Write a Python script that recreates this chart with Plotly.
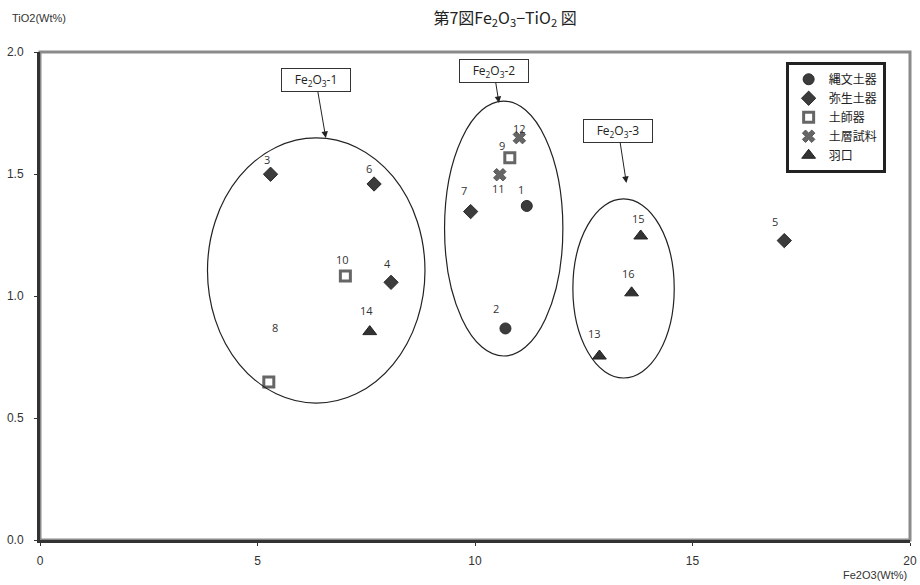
import plotly.graph_objects as go

# ---- data ----
groups = ["縄文土器", "弥生土器", "土師器", "土層試料", "羽口"]
sample_ids = {
    "縄文土器": ["1", "2"],
    "弥生土器": ["3", "4", "5", "6", "7"],
    "土師器": ["8", "9", "10"],
    "土層試料": ["11", "12"],
    "羽口": ["13", "14", "15", "16"],
}
fe2o3 = {
    "縄文土器": [11.19, 10.70],
    "弥生土器": [5.30, 8.07, 17.11, 7.68, 9.90],
    "土師器": [5.26, 10.80, 7.02],
    "土層試料": [10.57, 11.02],
    "羽口": [12.86, 7.58, 13.81, 13.60],
}
tio2 = {
    "縄文土器": [1.369, 0.867],
    "弥生土器": [1.499, 1.056, 1.227, 1.459, 1.346],
    "土師器": [0.648, 1.567, 1.082],
    "土層試料": [1.497, 1.649],
    "羽口": [0.754, 0.854, 1.246, 1.013],
}
x_ticks = [0, 5, 10, 15, 20]
y_ticks = [0.0, 0.5, 1.0, 1.5, 2.0]

# ---- styles ----
marker_styles = {
    "縄文土器": dict(symbol="circle", size=11, color="#3c3c3c", line=dict(color="#2a2a2a", width=1)),
    "弥生土器": dict(symbol="diamond", size=11, color="#3c3c3c", line=dict(color="#2a2a2a", width=1)),
    "土師器": dict(symbol="square", size=10, color="white", line=dict(color="#666666", width=3)),
    "土層試料": dict(symbol="x", size=11, color="#666666", line=dict(color="#555555", width=1)),
    "羽口": dict(symbol="triangle-up", size=12, color="#333333", line=dict(color="#222222", width=1)),
}
# pixel offsets of the number labels relative to their point
label_offsets = {
    "1": (-6, 16), "2": (-9, 20), "3": (-4, 15), "4": (-4, 19), "5": (-9, 19),
    "6": (-5, 16), "7": (-7, 21), "8": (6, 54), "9": (-8, 12), "10": (-3, 16),
    "11": (-1, -14), "12": (0, 9), "13": (-5, 23), "14": (-3, 21), "15": (-2, 17),
    "16": (-3, 19),
}

fig = go.Figure()
annotations = []
for g in groups:
    fig.add_trace(go.Scatter(
        x=fe2o3[g], y=tio2[g], mode="markers", name=g,
        marker=marker_styles[g],
    ))
    for sid, xv, yv in zip(sample_ids[g], fe2o3[g], tio2[g]):
        dx, dy = label_offsets[sid]
        annotations.append(dict(
            x=xv, y=yv, xref="x", yref="y", text=sid, showarrow=False,
            xshift=dx, yshift=dy, font=dict(family="Open Sans", size=11, color="#333333"),
        ))

# group boxes with arrows
group_boxes = [
    ("Fe<sub>2</sub>O<sub>3</sub>-1", 6.57, 1.648, -10, -58),
    ("Fe<sub>2</sub>O<sub>3</sub>-2", 10.55, 1.791, -5, -32),
    ("Fe<sub>2</sub>O<sub>3</sub>-3", 13.48, 1.463, -8, -52),
]
for txt, hx, hy, ax, ay in group_boxes:
    annotations.append(dict(
        x=hx, y=hy, xref="x", yref="y", text=txt, showarrow=True,
        ax=ax, ay=ay, axref="pixel", ayref="pixel",
        arrowhead=2, arrowsize=1.3, arrowwidth=1, arrowcolor="#222222",
        bordercolor="#333333", borderwidth=1, borderpad=3, bgcolor="white",
        width=62, height=16, font=dict(family="Open Sans", size=12, color="#222222"),
    ))

axis_label_font = dict(family="Liberation Sans Narrow, Liberation Sans", size=11, color="#333333")
annotations.append(dict(
    x=-0.034, y=1.07, xref="paper", yref="paper", xanchor="left", yanchor="middle",
    text="TiO2(Wt%)", showarrow=False, font=axis_label_font,
))
annotations.append(dict(
    x=0.999, y=-0.072, xref="paper", yref="paper", xanchor="right", yanchor="middle",
    text="Fe2O3(Wt%)", showarrow=False, font=axis_label_font,
))

shapes = [
    dict(type="rect", xref="paper", yref="paper", x0=0, y0=0, x1=1, y1=1,
         line=dict(color="#8a8a8a", width=3), layer="below"),
    dict(type="circle", xref="x", yref="y", x0=3.85, x1=8.85, y0=0.561, y1=1.648,
         line=dict(color="#222222", width=1.2)),
    dict(type="circle", xref="x", yref="y", x0=9.30, x1=12.02, y0=0.754, y1=1.799,
         line=dict(color="#222222", width=1.2)),
    dict(type="circle", xref="x", yref="y", x0=12.25, x1=14.58, y0=0.664, y1=1.398,
         line=dict(color="#222222", width=1.2)),
]

tick_font = dict(family="Liberation Sans Narrow, Liberation Sans", size=12, color="#333333")
fig.update_layout(
    width=920, height=585,
    margin=dict(l=40, r=10, t=52, b=45, autoexpand=False),
    paper_bgcolor="white", plot_bgcolor="white",
    title=dict(
        text="第7図Fe<sub>2</sub>O<sub>3</sub>−TiO<sub>2</sub> 図",
        x=0.549, xanchor="center", y=0.969, yanchor="middle",
        font=dict(family="Noto Sans CJK JP", size=16, color="#222222"),
    ),
    xaxis=dict(range=[0, 20], tickvals=x_ticks, ticktext=[str(v) for v in x_ticks],
               showgrid=False, zeroline=False, showline=True, linecolor="#333333", linewidth=3,
               ticks="outside", ticklen=3, tickcolor="#333333", tickfont=tick_font,
               ticklabelstandoff=5, automargin=False),
    yaxis=dict(range=[0, 2], tickvals=y_ticks, ticktext=[f"{v:.1f}" for v in y_ticks],
               showgrid=False, zeroline=False, showline=True, linecolor="#333333", linewidth=3,
               ticks="outside", ticklen=3, tickcolor="#333333", tickfont=tick_font,
               ticklabelstandoff=8, automargin=False),
    legend=dict(
        x=0.972, y=0.98, xanchor="right", yanchor="top",
        bordercolor="#222222", borderwidth=3, bgcolor="white",
        font=dict(family="Noto Sans CJK JP", size=12, color="#222222"),
        itemwidth=30, tracegroupgap=0,
    ),
    annotations=annotations,
    shapes=shapes,
)

fig.write_html("out.html", post_script="document.body.style.margin='0';",
               config={"displayModeBar": False})
